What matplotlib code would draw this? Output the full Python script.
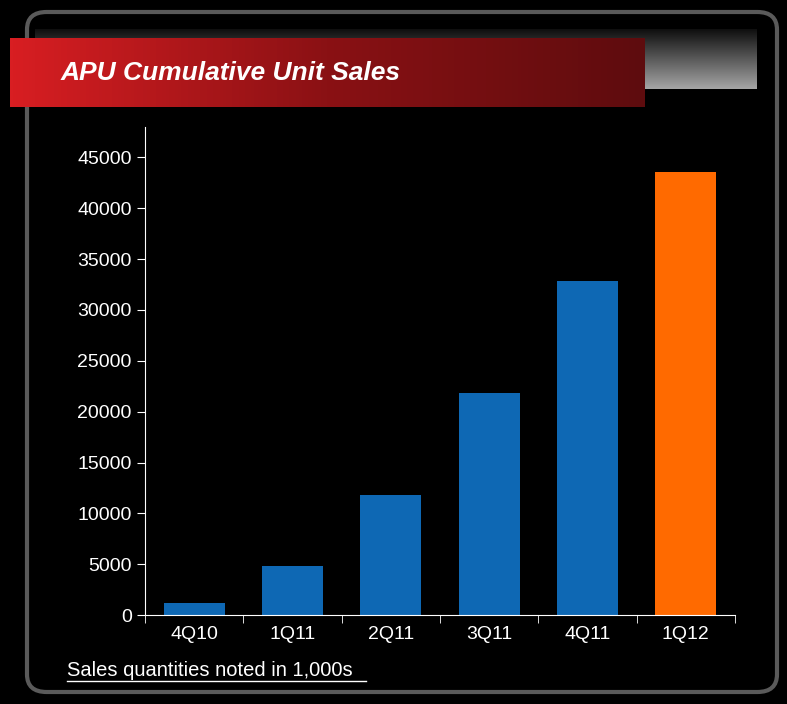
import numpy as np
import matplotlib.pyplot as plt
from matplotlib.patches import FancyBboxPatch
from matplotlib.colors import LinearSegmentedColormap

quarters = ['4Q10', '1Q11', '2Q11', '3Q11', '4Q11', '1Q12']
units = [1200, 4800, 11800, 21800, 32900, 43600]
colors = ['#0e68b4'] * 5 + ['#ff6a00']

fig = plt.figure(figsize=(7.87, 7.04), dpi=100)
fig.patch.set_facecolor('black')

# rounded frame
W, H = 787, 704
frame = FancyBboxPatch((27 / W, 12 / H), 750 / W, 680 / H,
                       boxstyle='round,pad=0,rounding_size=0.025',
                       transform=fig.transFigure, facecolor='none',
                       edgecolor='#5a5a5a', linewidth=3, zorder=-5)
fig.patches.append(frame)

# grey gradient band at top of frame
bg = fig.add_axes([35 / W, 615 / H, 722 / W, 60 / H])
grad = np.linspace(0, 1, 100).reshape(-1, 1)
bg.imshow(grad, aspect='auto', cmap='gray', vmin=-0.1, vmax=1.6,
          extent=[0, 1, 0, 1])
bg.axis('off')

# red banner
ban = fig.add_axes([10 / W, 597 / H, 635 / W, 69 / H])
hgrad = np.linspace(0, 1, 200).reshape(1, -1)
red = LinearSegmentedColormap.from_list('r', ['#d81e22', '#8a1114', '#5e0c0e'])
ban.imshow(hgrad, aspect='auto', cmap=red, extent=[0, 1, 0, 1])
ban.axis('off')
ban.text(0.08, 0.5, 'APU Cumulative Unit Sales', color='white', fontsize=19,
         fontweight='bold', fontstyle='italic', va='center', ha='left',
         family='Liberation Sans')

ax = fig.add_axes([145 / W, 89 / H, 590 / W, 488 / H])
ax.set_facecolor('black')
x = np.arange(len(quarters))
ax.bar(x, units, width=0.62, color=colors)
ax.set_xlim(-0.5, 5.5)
ax.set_ylim(0, 48000)
ax.set_yticks(range(0, 45001, 5000))
ax.set_xticks(x)
ax.set_xticklabels(quarters)
ax.set_xticks(np.arange(-0.5, 6, 1), minor=True)
ax.tick_params(axis='x', which='major', length=0, pad=8)
ax.tick_params(axis='x', which='minor', length=6, color='white', direction='out')
ax.tick_params(axis='y', length=6, color='white', direction='out')
ax.tick_params(colors='white', labelsize=14)
for lab in ax.get_xticklabels() + ax.get_yticklabels():
    lab.set_family('Liberation Sans')
for s in ['top', 'right']:
    ax.spines[s].set_visible(False)
ax.spines['left'].set_color('white')
ax.spines['bottom'].set_color('white')

fig.text(67 / W, 1 - 671 / H, 'Sales quantities noted in 1,000s', color='white',
         fontsize=14.5, va='center', family='Liberation Sans')
fig.add_artist(plt.Line2D([67 / W, 366 / W], [1 - 681 / H] * 2, color='white', lw=1))

fig.savefig('out.png', dpi=100, facecolor='black')
